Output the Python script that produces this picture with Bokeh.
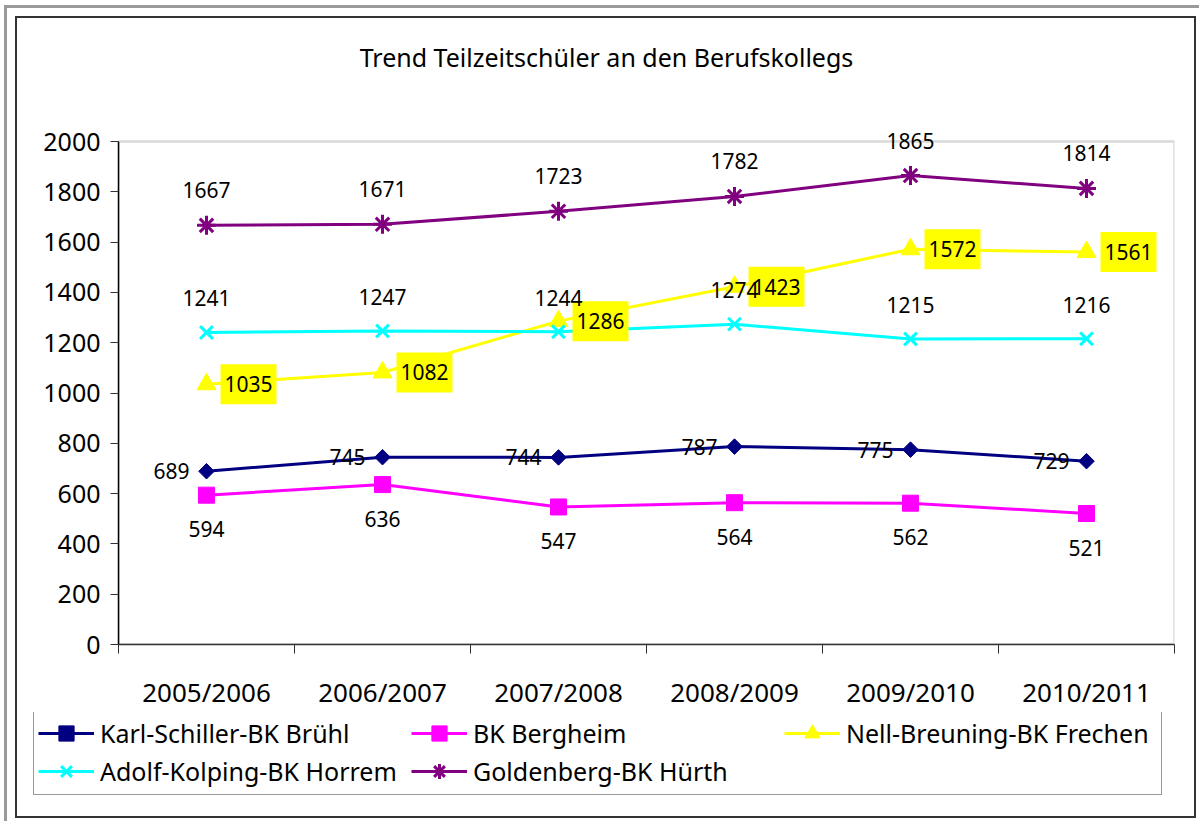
import math
from bokeh.plotting import figure
from bokeh.layouts import column
from bokeh.models import (ColumnDataSource, LabelSet, Legend, LegendItem, FixedTicker,
                          Range1d, Label, BoxAnnotation)
from bokeh.transform import dodge
from bokeh.embed import file_html
from bokeh.resources import INLINE
from bokeh.core.properties import value

# ---------------- data ----------------
categories = ["2005/2006", "2006/2007", "2007/2008", "2008/2009", "2009/2010", "2010/2011"]
karl_schiller = [689, 745, 744, 787, 775, 729]
bk_bergheim = [594, 636, 547, 564, 562, 521]
nell_breuning = [1035, 1082, 1286, 1423, 1572, 1561]
adolf_kolping = [1241, 1247, 1244, 1274, 1215, 1216]
goldenberg = [1667, 1671, 1723, 1782, 1865, 1814]
series_names = ["Karl-Schiller-BK Brühl", "BK Bergheim", "Nell-Breuning-BK Frechen",
                "Adolf-Kolping-BK Horrem", "Goldenberg-BK Hürth"]
y_ticks = [0, 200, 400, 600, 800, 1000, 1200, 1400, 1600, 1800, 2000]
y_max = 2000
title_text = "Trend Teilzeitschüler an den Berufskollegs"

FONT = "Noto Sans"
W, H = 1199, 821
H1 = 712                      # chart part; legend part below it
H2 = H - H1
PLOT_L, PLOT_R, PLOT_T, PLOT_B = 118, 1174, 142, 648   # plot area in px
FL, FR, FT, FB = PLOT_L, W - PLOT_R, 0, H1 - PLOT_B     # frame reaches the top edge
frame_w = W - FL - FR
frame_h = H1 - FT - FB

n = len(categories)
x_start, x_end = -0.5, n - 0.5
y_start = 0
y_end = y_max * frame_h / (PLOT_B - PLOT_T)
x_per_px = (x_end - x_start) / frame_w

def dx(px):  # canvas px -> data x
    return x_start + (px - FL) * x_per_px

def dy(py):  # canvas px (from top) -> data y
    return y_start + (H1 - FB - py) / frame_h * (y_end - y_start)

# chart borders, drawn as CSS background lines behind transparent canvases
lines = [  # (x, y, w, h, colour)
    (4, 5, 1195, 3, "#9a9a9a"), (4, 5, 3, 816, "#9a9a9a"),
    (16, 16, 1180, 2, "#333333"), (16, 816, 1180, 2, "#333333"),
    (15, 16, 2, 802, "#333333"), (1194, 16, 2, 802, "#333333"),
]
styles = {
    "background-color": "white",
    "background-image": ", ".join(f"linear-gradient({c}, {c})" for *_, c in lines),
    "background-position": ", ".join(f"{x}px {y}px" for x, y, *_ in lines),
    "background-size": ", ".join(f"{w}px {h}px" for _, _, w, h, _ in lines),
    "background-repeat": "no-repeat",
}

p = figure(width=W, height=H1, output_backend="svg", toolbar_location=None,
           x_range=Range1d(x_start, x_end), y_range=Range1d(y_start, y_end),
           min_border_left=FL, min_border_right=FR, min_border_top=FT, min_border_bottom=FB,
           background_fill_alpha=0, border_fill_alpha=0)
p.title.visible = False
p.xgrid.visible = False
p.ygrid.visible = False
p.outline_line_color = None

# plot area border
p.add_layout(BoxAnnotation(left=x_start, right=x_end, bottom=0, top=y_max,
                           fill_alpha=0, line_color="#808080", line_width=2.5, level="underlay"))

xs = list(range(n))

# x axis: labels at category centres, ticks at category boundaries
p.xaxis.ticker = FixedTicker(ticks=xs, minor_ticks=[i - 0.5 for i in range(n + 1)])
p.xaxis.major_label_overrides = {i: c for i, c in zip(xs, categories)}
p.xaxis.major_tick_out = 0
p.xaxis.major_tick_in = 0
p.xaxis.minor_tick_out = 9
p.xaxis.minor_tick_in = 0
p.xaxis.minor_tick_line_color = "#333333"
p.xaxis.axis_line_color = "#333333"
p.xaxis.axis_line_width = 1.5
p.xaxis.major_label_standoff = 20
p.xaxis.major_label_text_font = FONT
p.xaxis.major_label_text_font_size = "26px"
p.xaxis.major_label_text_color = "black"

p.yaxis.ticker = FixedTicker(ticks=y_ticks)
p.yaxis.bounds = (0, y_max)
p.yaxis.major_tick_out = 8
p.yaxis.major_tick_in = 0
p.yaxis.minor_tick_line_color = None
p.yaxis.major_tick_line_color = "#333333"
p.yaxis.axis_line_color = "black"
p.yaxis.axis_line_width = 1.5
p.yaxis.major_label_standoff = 10
p.yaxis.major_label_text_font = FONT
p.yaxis.major_label_text_font_size = "25px"
p.yaxis.major_label_text_color = "black"

series = [
    dict(name=series_names[0], vals=karl_schiller, color="#000080", marker="square", size=11, angle=math.pi / 4, lw=1),
    dict(name=series_names[1], vals=bk_bergheim, color="#FF00FF", marker="square", size=16, angle=0, lw=1),
    dict(name=series_names[2], vals=nell_breuning, color="#FFFF00", marker="triangle", size=19, angle=0, lw=1),
    dict(name=series_names[3], vals=adolf_kolping, color="#00FFFF", marker="x", size=18, angle=0, lw=3),
    dict(name=series_names[4], vals=goldenberg, color="#800080", marker="asterisk", size=19, angle=0, lw=3),
]

# legend part: its own figure, the same series drawn out of its visible range
p2 = figure(width=W, height=H2, output_backend="svg", toolbar_location=None,
            x_range=Range1d(100, 101), y_range=Range1d(-10, -9),
            x_axis_location=None, y_axis_location=None,
            min_border_left=0, min_border_right=0, min_border_top=0, min_border_bottom=0,
            background_fill_alpha=0, border_fill_alpha=0)
p2.title.visible = False
p2.xgrid.visible = False
p2.ygrid.visible = False
p2.outline_line_color = None
for fig in (p, p2):
    try:
        fig.frame_align = False
    except AttributeError:
        pass

items = []
sources = []
for s in series:
    src = ColumnDataSource(dict(x=xs, y=s["vals"], label=[str(v) for v in s["vals"]]))
    sources.append(src)
    line_kw = dict(line_color=s["color"], line_width=3)
    mark_kw = dict(marker=s["marker"], size=s["size"], angle=s["angle"],
                   fill_color=s["color"], line_color=s["color"], line_width=s["lw"])
    p.line("x", "y", source=src, **line_kw)
    p.scatter("x", "y", source=src, **mark_kw)
    ln2 = p2.line("x", "y", source=src, **line_kw)
    mk2 = p2.scatter("x", "y", source=src, **mark_kw)
    items.append(LegendItem(label=s["name"], renderers=[ln2, mk2]))

# yellow boxes behind the Frechen labels (right of the points)
p.rect(x=dodge("x", 42 * x_per_px, range=p.x_range), y="y", width=56, height=40,
       width_units="screen", height_units="screen", source=sources[2],
       fill_color="#FFFF00", line_color=None, level="annotation")

lab_common = dict(text_font=value(FONT), text_font_size="21px", text_color="black",
                  text_baseline="middle")
# Brühl: left
p.add_layout(LabelSet(x="x", y="y", text="label", source=sources[0], text_align="right",
                      x_offset=-17, y_offset=0, **lab_common))
# Bergheim: below
p.add_layout(LabelSet(x="x", y="y", text="label", source=sources[1], text_align="center",
                      x_offset=0, y_offset=-34, **lab_common))
# Frechen: right
p.add_layout(LabelSet(x="x", y="y", text="label", source=sources[2], text_align="center",
                      x_offset=42, y_offset=0, **lab_common))
# Horrem: above
p.add_layout(LabelSet(x="x", y="y", text="label", source=sources[3], text_align="center",
                      x_offset=0, y_offset=34, **lab_common))
# Hürth: above
p.add_layout(LabelSet(x="x", y="y", text="label", source=sources[4], text_align="center",
                      x_offset=0, y_offset=35, **lab_common))

# title (inside the frame, above the plot area)
p.add_layout(Label(x=dx(606), y=dy(57), text=title_text, text_align="center",
                   text_baseline="middle", text_font=FONT, text_font_size="25px",
                   text_color="black"))

legend = Legend(items=items, location=(33, H - 795), orientation="horizontal", ncols=3,
                label_text_font=FONT, label_text_font_size="25px", label_text_color="black",
                label_width=311, label_height=38, glyph_width=56, glyph_height=38,
                label_standoff=6, padding=4, spacing=0, margin=0,
                border_line_color="#333333", border_line_width=1,
                background_fill_color="white", background_fill_alpha=1)
p2.add_layout(legend)

layout = column(p, p2, spacing=0, styles=styles)
open("out.html", "w").write(file_html(layout, INLINE))
